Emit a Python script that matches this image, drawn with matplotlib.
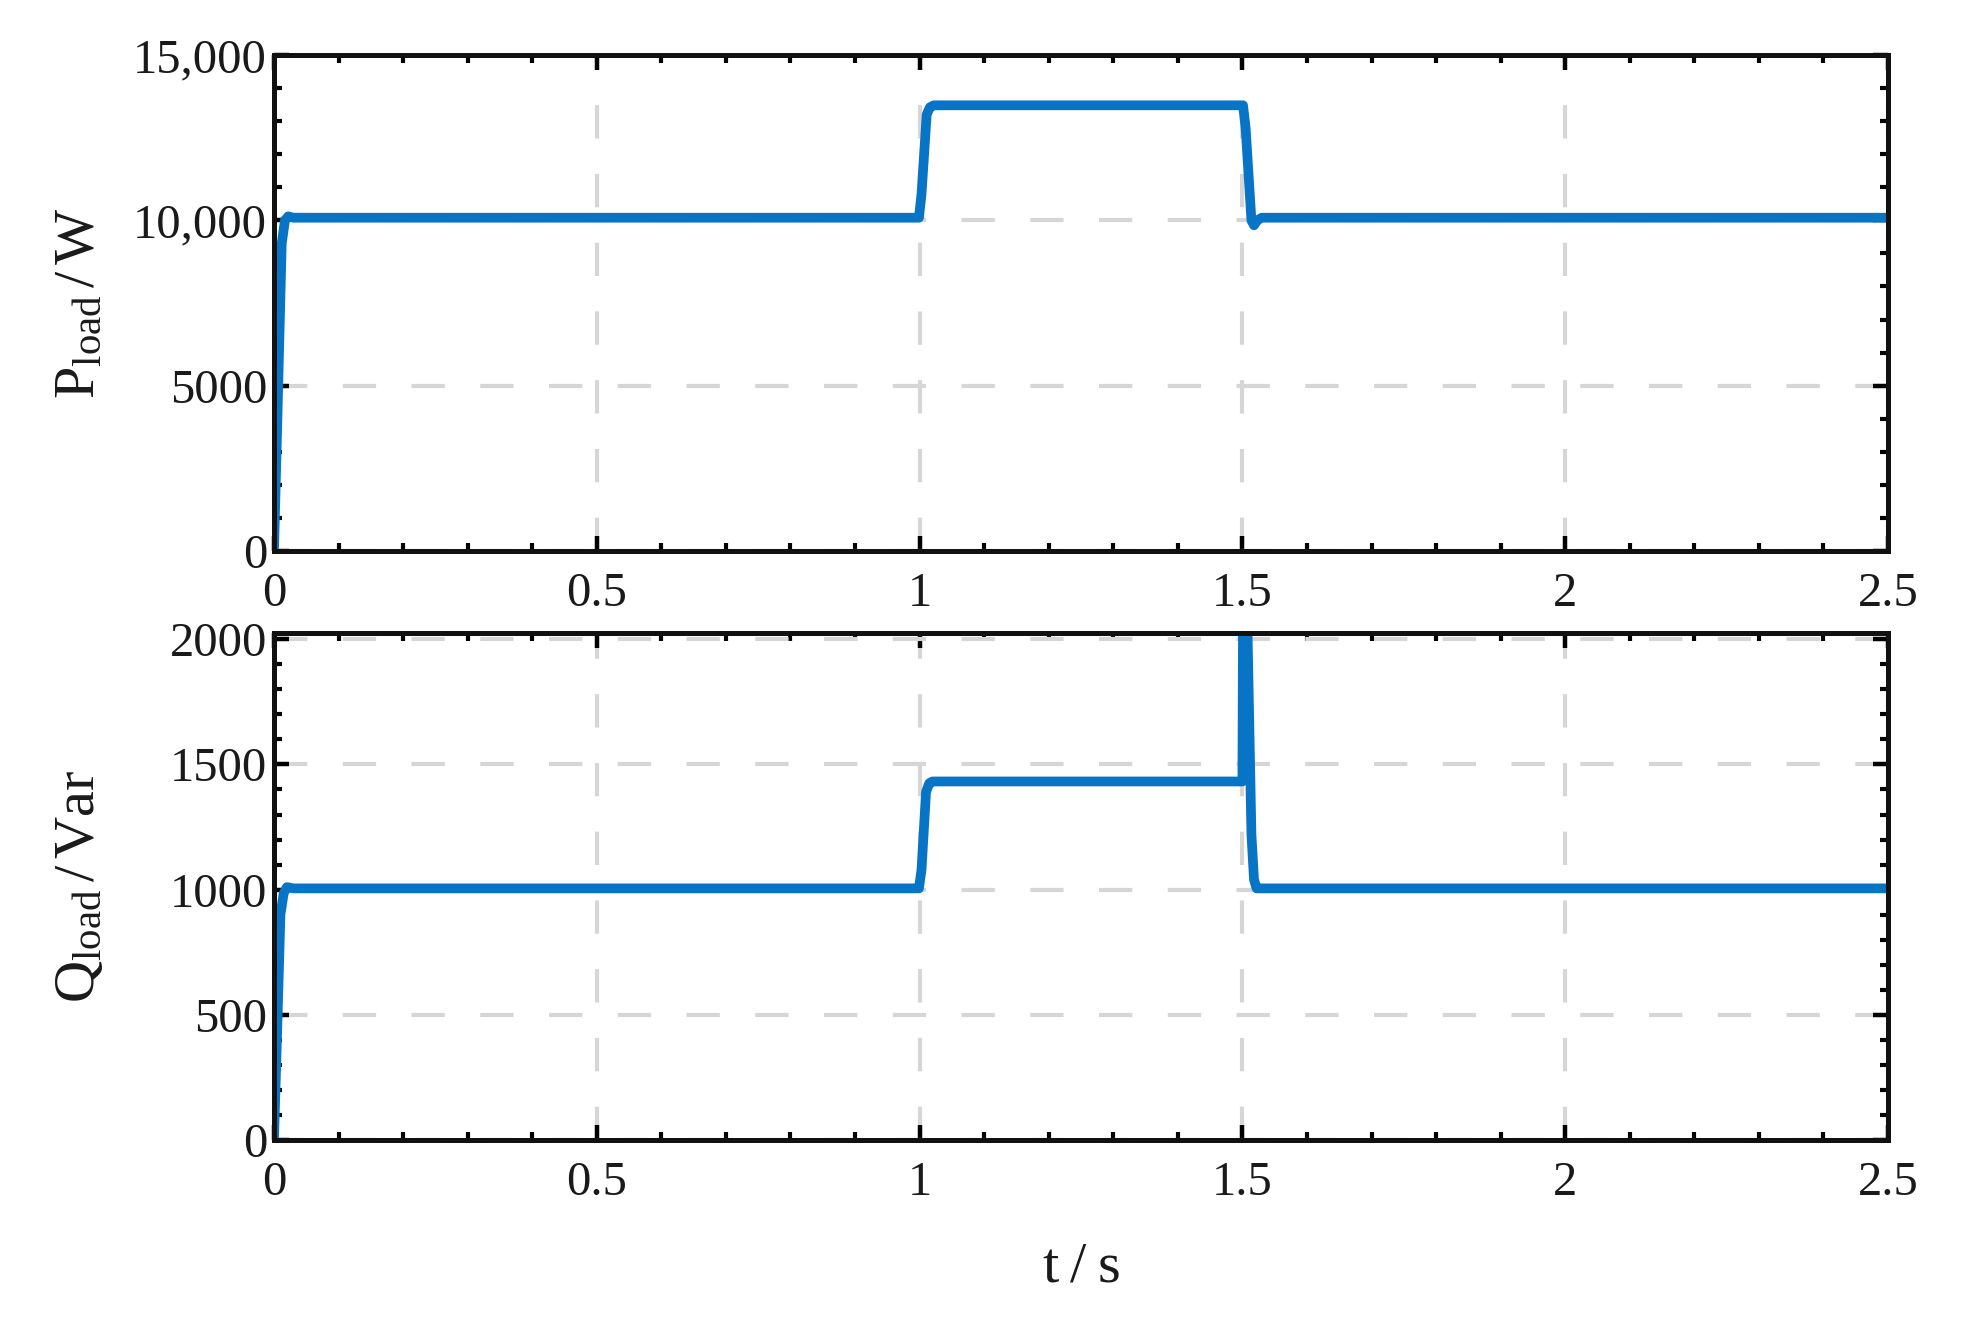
import matplotlib
matplotlib.use("Agg")
import matplotlib.pyplot as plt
from matplotlib.ticker import MultipleLocator

# ---- data ----
t_p = [0.0, 0.004, 0.012, 0.017, 0.022, 0.03, 0.999, 1.003, 1.011, 1.016, 1.022,
       1.501, 1.505, 1.514, 1.518, 1.523, 1.53, 2.5]
p_load = [0, 3000, 9300, 10000, 10120, 10080, 10080, 10800, 13200, 13420, 13480,
          13480, 12800, 10000, 9850, 10000, 10080, 10080]

t_q = [0.0, 0.004, 0.010, 0.015, 0.02, 0.03, 0.999, 1.003, 1.010, 1.015, 1.02,
       1.5, 1.502, 1.508, 1.514, 1.518, 1.522, 1.53, 2.5]
q_load = [0, 350, 900, 985, 1010, 1005, 1005, 1080, 1390, 1425, 1432,
          1432, 2750, 2025, 1220, 1040, 1005, 1005, 1005]

x_ticks = [0, 0.5, 1, 1.5, 2, 2.5]
x_ticklabels = ["0", "0.5", "1", "1.5", "2", "2.5"]
p_ticks = [0, 5000, 10000, 15000]
p_ticklabels = ["0", "5000", "10,000", "15,000"]
q_ticks = [0, 500, 1000, 1500, 2000]
q_ticklabels = ["0", "500", "1000", "1500", "2000"]

p_label = r"$\mathrm{P}_{\mathrm{load}}\,/\,\mathrm{W}$"
q_label = r"$\mathrm{Q}_{\mathrm{load}}\,/\,\mathrm{Var}$"
x_label = r"$\mathrm{t}\;/\;\mathrm{s}$"

# ---- style ----
plt.rcParams["font.family"] = ["Liberation Serif", "DejaVu Serif"]
plt.rcParams["mathtext.fontset"] = "custom"
plt.rcParams["mathtext.rm"] = "Liberation Serif"
plt.rcParams["mathtext.it"] = "Liberation Serif:italic"

line_color = "#0874C6"
grid_color = "#d6d6d6"
text_color = "#1a1a1a"

fig = plt.figure(figsize=(19.64, 13.36), dpi=100)
ax1 = fig.add_axes([0.1395, 0.5876, 0.8218, 0.3712])
ax2 = fig.add_axes([0.1395, 0.1467, 0.8218, 0.3795])


def style(ax, yticks, yticklabels, yminor, ylim):
    ax.set_xlim(0, 2.5)
    ax.set_ylim(*ylim)
    ax.set_xticks(x_ticks)
    ax.set_xticklabels(x_ticklabels)
    ax.set_yticks(yticks)
    ax.set_yticklabels(yticklabels)
    ax.xaxis.set_minor_locator(MultipleLocator(0.1))
    ax.yaxis.set_minor_locator(MultipleLocator(yminor))
    ax.tick_params(which="both", direction="in", top=True, right=True,
                   colors="black", labelcolor=text_color)
    ax.tick_params(which="major", length=11, width=3.2, labelsize=35)
    ax.tick_params(which="minor", length=6, width=3.0)
    ax.tick_params(axis="x", which="major", pad=15)
    ax.tick_params(axis="y", which="major", pad=5)
    for sp in ax.spines.values():
        sp.set_linewidth(3.6)
        sp.set_color("#111111")
    ax.grid(True, which="major", color=grid_color, linewidth=3.0,
            linestyle=(0, (8, 8.5)))
    ax.set_axisbelow(True)


style(ax1, p_ticks, p_ticklabels, 1000, (0, 15000))
style(ax2, q_ticks, q_ticklabels, 100, (0, 2025))

ax1.plot(t_p, p_load, color=line_color, linewidth=7, solid_joinstyle="round",
         solid_capstyle="butt")
ax2.plot(t_q, q_load, color=line_color, linewidth=7, solid_joinstyle="round",
         solid_capstyle="butt")

ax1.set_ylabel(p_label, fontsize=42, color=text_color)
ax2.set_ylabel(q_label, fontsize=42, color=text_color)
ax1.yaxis.set_label_coords(-0.104, 0.5)
ax2.yaxis.set_label_coords(-0.104, 0.5)
ax2.set_xlabel(x_label, fontsize=42, color=text_color)
ax2.xaxis.set_label_coords(0.5, -0.2)

fig.savefig("out.png", dpi=100, facecolor="white")
